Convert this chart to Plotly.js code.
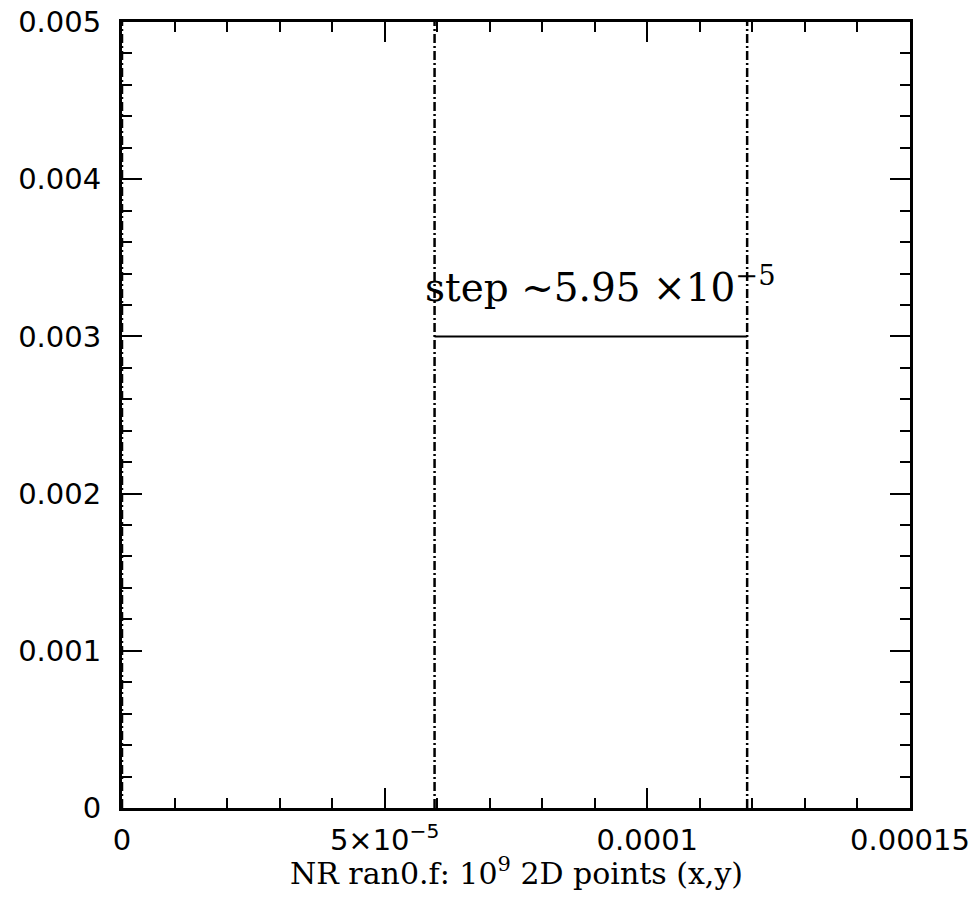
<!DOCTYPE html>
<html>
<head>
<meta charset="utf-8">
<script src="https://cdn.plot.ly/plotly-3.0.1.min.js"></script>
<style>html,body{margin:0;padding:0;background:#fff}#chart{width:974px;height:898px}</style>
</head>
<body>
<div id="chart"></div>
<script>
// Data
const stepXs = [0, 5.95e-5, 1.19e-4];          // x positions where the points pile up
const yExtent = [0, 0.005];                     // each pile spans the full y range
const stepMarkX = [5.95e-5, 1.19e-4];           // horizontal "step" marker
const stepMarkY = [0.003, 0.003];
const xTickVals = [0, 5e-5, 1e-4, 1.5e-4];
const xTickText = ['0', '5×10<sup>−5</sup>', '0.0001', '0.00015'];
const yTickVals = [0, 0.001, 0.002, 0.003, 0.004, 0.005];
const yTickText = ['0', '0.001', '0.002', '0.003', '0.004', '0.005'];
const stepLabel = 'step ~5.95 ×10<sup>−5</sup>';
const xTitle = 'NR ran0.f: 10<sup>9</sup> 2D points (x,y)';

const traces = stepXs.map(x => ({
  x: [x, x], y: yExtent, mode: 'lines', type: 'scatter',
  line: {color: '#000', width: 2.5, dash: '9px,3px,2px,3px'},
  hoverinfo: 'skip', showlegend: false, cliponaxis: false
}));
traces.push({
  x: stepMarkX, y: stepMarkY, mode: 'lines', type: 'scatter',
  line: {color: '#000', width: 2}, showlegend: false
});

const baseAxis = {
  showgrid: false, zeroline: false, showline: true, linecolor: '#000', linewidth: 3,
  ticks: 'inside', ticklen: 20, tickwidth: 2, tickcolor: '#000'
};

const layout = {
  width: 974, height: 898,
  margin: {l: 122, r: 64, t: 22, b: 90},
  paper_bgcolor: '#fff', plot_bgcolor: '#fff',
  xaxis: Object.assign({}, baseAxis, {
    range: [0, 1.5e-4], tickmode: 'array', tickvals: xTickVals, ticktext: xTickText,
    tickfont: {family: 'DejaVu Sans', size: 29, color: '#000'}, ticklabelstandoff: 4,
    minor: {tickmode: 'linear', tick0: 0, dtick: 1e-5, ticks: 'inside', ticklen: 10, tickwidth: 2, tickcolor: '#000'}
  }),
  yaxis: Object.assign({}, baseAxis, {
    range: [0, 0.005], tickmode: 'array', tickvals: yTickVals, ticktext: yTickText,
    tickfont: {family: 'DejaVu Sans', size: 29, color: '#000'}, ticklabelstandoff: 12,
    minor: {tickmode: 'linear', tick0: 0, dtick: 2e-4, ticks: 'inside', ticklen: 10, tickwidth: 2, tickcolor: '#000'}
  }),
  xaxis2: Object.assign({}, baseAxis, {
    overlaying: 'x', side: 'top', matches: 'x', range: [0, 1.5e-4],
    tickmode: 'array', tickvals: xTickVals, showticklabels: false,
    minor: {tickmode: 'linear', tick0: 0, dtick: 1e-5, ticks: 'inside', ticklen: 10, tickwidth: 2, tickcolor: '#000'}
  }),
  yaxis2: Object.assign({}, baseAxis, {
    overlaying: 'y', side: 'right', range: [0, 0.005],
    tickmode: 'array', tickvals: yTickVals, showticklabels: false,
    minor: {tickmode: 'linear', tick0: 0, dtick: 2e-4, ticks: 'inside', ticklen: 10, tickwidth: 2, tickcolor: '#000'}
  }),
  annotations: [{
    x: 9.1e-5, y: 0.003, xref: 'x', yref: 'y', yanchor: 'bottom', yshift: 24,
    text: stepLabel, showarrow: false,
    font: {family: 'DejaVu Serif', size: 39, color: '#000'}
  }, {
    x: 0.5, y: -0.081, xref: 'paper', yref: 'paper', xanchor: 'center', yanchor: 'middle',
    text: xTitle, showarrow: false,
    font: {family: 'DejaVu Serif', size: 30, color: '#000'}
  }]
};

// invisible trace so the mirror axes render
traces.push({x: [0], y: [0], xaxis: 'x2', yaxis: 'y2', mode: 'markers', marker: {opacity: 0}, showlegend: false, hoverinfo: 'skip'});

Plotly.newPlot('chart', traces, layout, {displayModeBar: false, staticPlot: true});
</script>
</body>
</html>
